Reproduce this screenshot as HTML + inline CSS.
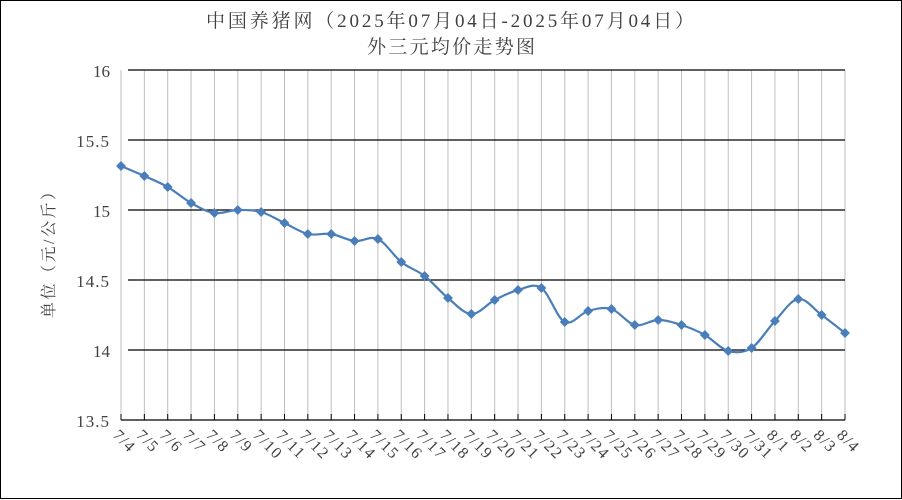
<!DOCTYPE html>
<html><head><meta charset="utf-8"><style>
html,body{margin:0;padding:0;background:#fff;}
svg{display:block;}
text{font-family:"Liberation Serif","Noto Serif CJK SC",serif;fill:#404040;}
</style></head><body>
<svg width="902" height="500" viewBox="0 0 902 500" xmlns="http://www.w3.org/2000/svg">
<rect x="0.5" y="0.5" width="901" height="498" fill="#fff" stroke="#000" stroke-width="1"/>
<text x="206" y="27" font-size="19" textLength="488" lengthAdjust="spacing">中国养猪网（2025年07月04日-2025年07月04日）</text>
<text x="367" y="53" font-size="19" textLength="168" lengthAdjust="spacing">外三元均价走势图</text>
<g id="vg" stroke="#bfbfbf" stroke-width="1"></g>
<g stroke="#000" stroke-width="1.3">
<line x1="128" y1="70" x2="845" y2="70"/>
<line x1="128" y1="140" x2="845" y2="140"/>
<line x1="128" y1="210" x2="845" y2="210"/>
<line x1="128" y1="280" x2="845" y2="280"/>
<line x1="128" y1="350" x2="845" y2="350"/>
<line x1="121" y1="420" x2="845" y2="420"/>
</g>
<g id="tk" stroke="#000" stroke-width="1"></g>
<g font-size="17" text-anchor="end">
<text x="110" y="77">16</text>
<text x="110" y="147" letter-spacing="1">15.5</text>
<text x="110" y="217">15</text>
<text x="110" y="287" letter-spacing="1">14.5</text>
<text x="110" y="357">14</text>
<text x="110" y="427" letter-spacing="1">13.5</text>
</g>
<text transform="translate(54,318) rotate(-90)" font-size="16" textLength="134" lengthAdjust="spacing" fill="#8b4a4a">单位（元/公斤）</text>
<g id="xl" font-size="16" letter-spacing="1.5"></g>
<path id="ln" fill="none" stroke="#4a7ebb" stroke-width="2.2"/>
<g id="mk" fill="#4a7ebb"></g>
</svg>
<script>
var ys=[166,176,187,203,213,210,212,223,234,234,241,239,262,276,298,314,300,290,288,322,311,309,325,320,325,335,351,348,321,299,315,333];
var labs=[];for(var i=4;i<=31;i++)labs.push("7/"+i);for(var i=1;i<=4;i++)labs.push("8/"+i);
var ns="http://www.w3.org/2000/svg",dx=724/31;
var vg=document.getElementById("vg"),tk=document.getElementById("tk"),xl=document.getElementById("xl"),mk=document.getElementById("mk");
var pts=[];
for(var i=0;i<32;i++){var x=121+i*dx;
var l=document.createElementNS(ns,"line");l.setAttribute("x1",x);l.setAttribute("x2",x);l.setAttribute("y1",70);l.setAttribute("y2",420);vg.appendChild(l);
var t=document.createElementNS(ns,"line");t.setAttribute("x1",x);t.setAttribute("x2",x);t.setAttribute("y1",414);t.setAttribute("y2",420);tk.appendChild(t);
var tx=document.createElementNS(ns,"text");tx.setAttribute("transform","translate("+(x-9)+",436) rotate(45)");tx.textContent=labs[i];xl.appendChild(tx);
pts.push([x,ys[i]]);
var m=document.createElementNS(ns,"rect");m.setAttribute("x",x-3.5);m.setAttribute("y",ys[i]-3.5);m.setAttribute("width",7);m.setAttribute("height",7);m.setAttribute("transform","rotate(45 "+x+" "+ys[i]+")");mk.appendChild(m);}
var d="M"+pts[0][0]+","+pts[0][1];
for(var i=0;i<pts.length-1;i++){var p0=pts[Math.max(0,i-1)],p1=pts[i],p2=pts[i+1],p3=pts[Math.min(pts.length-1,i+2)],k=1/6;
d+=" C"+(p1[0]+(p2[0]-p0[0])*k)+","+(p1[1]+(p2[1]-p0[1])*k)+" "+(p2[0]-(p3[0]-p1[0])*k)+","+(p2[1]-(p3[1]-p1[1])*k)+" "+p2[0]+","+p2[1];}
document.getElementById("ln").setAttribute("d",d);
</script>
</body></html>
